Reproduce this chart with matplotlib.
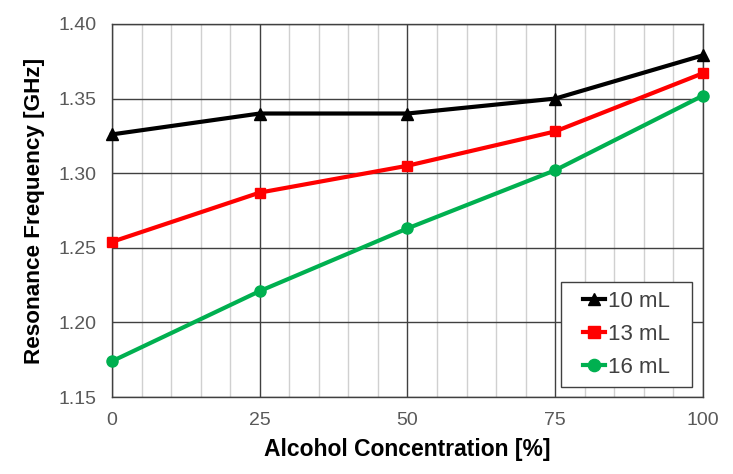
import matplotlib
matplotlib.use("Agg")
import matplotlib.pyplot as plt
from matplotlib.patches import Rectangle
from matplotlib.ticker import MultipleLocator

plt.rcParams['font.family'] = ['Liberation Sans', 'DejaVu Sans']

# Data
concentration = [0, 25, 50, 75, 100]
freq_10ml = [1.326, 1.340, 1.340, 1.350, 1.379]
freq_13ml = [1.254, 1.287, 1.305, 1.328, 1.367]
freq_16ml = [1.174, 1.221, 1.263, 1.302, 1.352]
labels = ["10 mL", "13 mL", "16 mL"]

fig = plt.figure(figsize=(7.33, 4.74), dpi=100)
ax = fig.add_axes([0.1528, 0.1624, 0.8062, 0.787])

ax.plot(concentration, freq_10ml, color="black", marker="^", markersize=8,
        linewidth=3, label=labels[0], clip_on=False, zorder=5)
ax.plot(concentration, freq_13ml, color="#ff0000", marker="s", markersize=7.5,
        linewidth=3, label=labels[1], clip_on=False, zorder=5)
ax.plot(concentration, freq_16ml, color="#00b050", marker="o", markersize=8,
        linewidth=3, label=labels[2], clip_on=False, zorder=5)

ax.set_xlim(0, 100)
ax.set_ylim(1.15, 1.40)
ax.xaxis.set_major_locator(MultipleLocator(25))
ax.xaxis.set_minor_locator(MultipleLocator(5))
ax.yaxis.set_major_locator(MultipleLocator(0.05))
ax.yaxis.set_major_formatter(plt.FormatStrFormatter("%.2f"))

ax.grid(which="major", color="#404040", linewidth=1.0)
ax.grid(which="minor", axis="x", color="#d0d0d0", linewidth=1.0)
ax.set_axisbelow(True)
for s in ax.spines.values():
    s.set_color("#404040")
    s.set_linewidth(1.0)

ax.tick_params(which="both", length=0, labelsize=14, labelcolor="#595959", pad=11)

ax.set_xlabel("Alcohol Concentration [%]", fontsize=16.5, fontweight="bold", labelpad=6)
ax.set_ylabel("Resonance Frequency [GHz]", fontsize=16.2, fontweight="bold", labelpad=10)

# legend frame drawn separately so the padding matches the original
box = Rectangle((0.760, 0.027), 0.221, 0.281, transform=ax.transAxes,
                facecolor="white", edgecolor="#404040", linewidth=1.0, zorder=6)
ax.add_patch(box)
leg = ax.legend(loc="center", bbox_to_anchor=(0.8705, 0.1675), fontsize=16,
                frameon=False, handlelength=1.0, handletextpad=0.15,
                borderpad=0.2, labelspacing=0.55, labelcolor="#404040",
                markerscale=1.1)
leg.set_zorder(7)

fig.savefig("out.png", dpi=100)
